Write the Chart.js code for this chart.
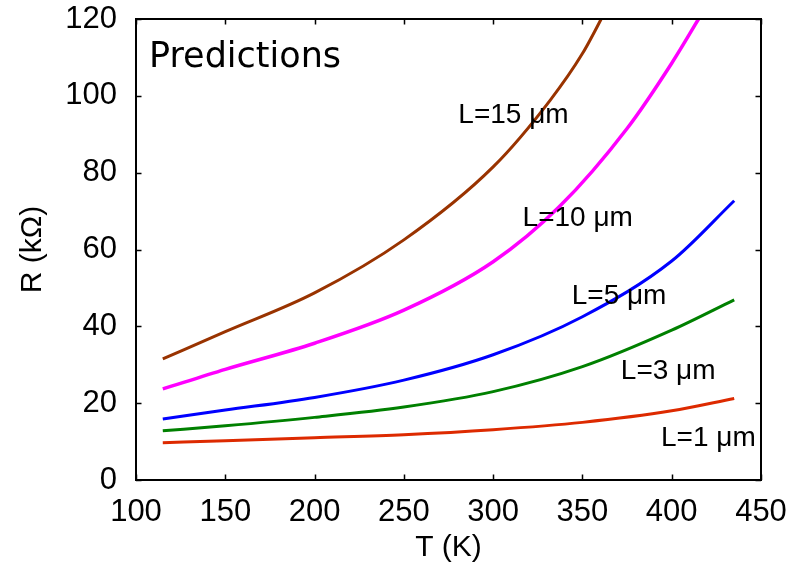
<!DOCTYPE html>
<html>
<head>
<meta charset="utf-8">
<script src="https://cdn.jsdelivr.net/npm/chart.js@4"></script>
<style>
  html, body { margin: 0; padding: 0; background: #fff; }
  #wrap { width: 795px; height: 569px; }
</style>
</head>
<body>
<div id="wrap"><canvas id="rChart" width="795" height="569"></canvas></div>
<script>
// Temperature sweep (K) and predicted resistance (kOhm) per channel length
const temps = [115, 150, 200, 250, 300, 350, 400, 435];
const r1um = [9.7, 10.2, 11.0, 11.8, 13.1, 15.0, 18.0, 21.2];
const r3um = [12.8, 14.1, 16.3, 19.0, 23.0, 29.5, 39.0, 46.9];
const r5um = [15.9, 18.2, 21.5, 26.0, 32.6, 42.5, 57.0, 72.7];

const temps10 = [115, 150, 200, 250, 300, 337, 375, 400, 415, 425];
const r10um = [23.7, 28.8, 35.6, 44.2, 56.8, 71.1, 91.5, 108.5, 120, 128];

const temps15 = [115, 150, 200, 250, 300, 332, 350, 365];
const r15um = [31.5, 38.6, 48.7, 62.5, 81.5, 98.9, 111, 124];

const xTicks = [100, 150, 200, 250, 300, 350, 400, 450];
const yTicks = [0, 20, 40, 60, 80, 100, 120];

// curve labels, placed in data coordinates (left edge, vertical centre)
const curveLabels = [
    { text: 'L=15 \u03bcm', t: 280.5, r: 95 },
    { text: 'L=10 \u03bcm', t: 316.5, r: 68.2 },
    { text: 'L=5 \u03bcm', t: 344, r: 47.9 },
    { text: 'L=3 \u03bcm', t: 371.5, r: 28.2 },
    { text: 'L=1 \u03bcm', t: 394, r: 10.9 }
];

const sansFont = "'Liberation Sans', Arial, sans-serif";

function toPoints(xs, ys) {
    return xs.map((x, i) => ({ x: x, y: ys[i] }));
}

function series(label, xs, ys, color, width) {
    return {
        label: label,
        data: toPoints(xs, ys),
        borderColor: color,
        backgroundColor: color,
        borderWidth: width,
        pointRadius: 0,
        cubicInterpolationMode: 'monotone',
        fill: false
    };
}

// box around the plot with inward ticks on all four sides, plus text annotations
const framePlugin = {
    id: 'frame',
    afterDatasetsDraw(chart) {
        const ctx = chart.ctx;
        const area = chart.chartArea;
        const xs = chart.scales.x;
        const ys = chart.scales.y;
        const tick = 5.5;

        ctx.save();
        ctx.strokeStyle = '#000';
        ctx.lineWidth = 1.5;
        ctx.beginPath();
        xTicks.forEach(v => {
            const px = Math.round(xs.getPixelForValue(v)) + 0.5;
            ctx.moveTo(px, area.bottom);
            ctx.lineTo(px, area.bottom - tick);
            ctx.moveTo(px, area.top);
            ctx.lineTo(px, area.top + tick);
        });
        yTicks.forEach(v => {
            const py = Math.round(ys.getPixelForValue(v)) + 0.5;
            ctx.moveTo(area.left, py);
            ctx.lineTo(area.left + tick, py);
            ctx.moveTo(area.right, py);
            ctx.lineTo(area.right - tick, py);
        });
        ctx.stroke();

        ctx.lineWidth = 2;
        ctx.strokeRect(area.left, area.top, area.right - area.left, area.bottom - area.top);

        ctx.fillStyle = '#000';
        ctx.textBaseline = 'middle';
        ctx.textAlign = 'left';
        ctx.font = '28px ' + sansFont;
        curveLabels.forEach(l => {
            ctx.fillText(l.text, xs.getPixelForValue(l.t), ys.getPixelForValue(l.r));
        });

        ctx.textBaseline = 'alphabetic';
        ctx.font = "35px 'DejaVu Sans', sans-serif";
        ctx.fillText('Predictions', area.left + 13, area.top + 48);
        ctx.restore();
    }
};

const chart = new Chart(document.getElementById('rChart').getContext('2d'), {
    type: 'line',
    data: {
        datasets: [
            series('L=15 \u03bcm', temps15, r15um, '#993300', 3),
            series('L=10 \u03bcm', temps10, r10um, '#ff00ff', 3.5),
            series('L=5 \u03bcm', temps, r5um, '#0000ff', 3),
            series('L=3 \u03bcm', temps, r3um, '#008000', 3),
            series('L=1 \u03bcm', temps, r1um, '#dd2a00', 3)
        ]
    },
    options: {
        responsive: false,
        animation: false,
        devicePixelRatio: 1,
        layout: {
            padding: { top: 19, right: 34, bottom: 0, left: 0 }
        },
        plugins: {
            legend: { display: false },
            tooltip: { enabled: false }
        },
        scales: {
            x: {
                type: 'linear',
                min: 100,
                max: 450,
                afterFit(scale) {
                    scale.height = 89;
                    scale.paddingLeft = 0;
                    scale.paddingRight = 0;
                },
                afterBuildTicks(scale) { scale.ticks = xTicks.map(v => ({ value: v })); },
                grid: { display: false },
                border: { display: false },
                ticks: {
                    color: '#000',
                    padding: 6,
                    maxRotation: 0,
                    font: { family: sansFont, size: 31 }
                },
                title: {
                    display: true,
                    text: 'T (K)',
                    color: '#000',
                    padding: { top: 0, bottom: 3 },
                    font: { family: sansFont, size: 30 }
                }
            },
            y: {
                type: 'linear',
                min: 0,
                max: 120,
                afterFit(scale) {
                    scale.width = 136;
                    scale.paddingTop = 0;
                    scale.paddingBottom = 0;
                },
                afterBuildTicks(scale) { scale.ticks = yTicks.map(v => ({ value: v })); },
                grid: { display: false },
                border: { display: false },
                ticks: {
                    color: '#000',
                    padding: 11,
                    font: { family: sansFont, size: 31 }
                },
                title: {
                    display: true,
                    text: 'R (k\u03a9)',
                    color: '#000',
                    padding: { top: 15, bottom: 0 },
                    font: { family: sansFont, size: 30 }
                }
            }
        }
    },
    plugins: [framePlugin]
});
</script>
</body>
</html>
